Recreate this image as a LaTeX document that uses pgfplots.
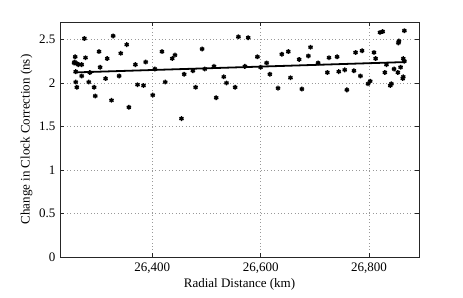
\documentclass[border=0pt]{standalone}
\usepackage{pgfplots}
\pgfplotsset{compat=1.18}
\usepackage{fontspec}
\setmainfont{Liberation Serif}
\begin{document}
\fontsize{13bp}{15bp}\selectfont
\begin{tikzpicture}
\path[use as bounding box] (0,0) rectangle (463bp,298bp);
\begin{axis}[
  at={(60bp,41bp)}, anchor=south west,
  scale only axis, width=359bp, height=235bp,
  xmin=26230, xmax=26892, ymin=0, ymax=2.7,
  xtick={26400,26600,26800}, ytick={0,0.5,1,1.5,2,2.5},
  scaled x ticks=false,
  xticklabel style={/pgf/number format/1000 sep={,}},
  /pgf/number format/assume math mode=true,
  tick label style={font=\fontsize{13bp}{15bp}\selectfont},
  label style={font=\fontsize{13bp}{15bp}\selectfont},
  xlabel={Radial Distance (km)}, ylabel={Change in Clock Correction (ns)},
  grid=major, major grid style={dash pattern=on 0.8bp off 2.6bp, gray!80, line width=0.6pt},
  tick align=inside, tick pos=both, major tick length=4bp,
  axis line style={black!85, line width=0.8pt},
  every tick/.style={black!85, line width=0.6pt},
  xticklabel style={yshift=-1bp},
  xlabel style={yshift=4bp},
  ylabel style={yshift=-2bp},
]
\addplot[only marks, mark=asterisk, mark size=2.4bp, line width=1.4pt, black] table {
x y
26275 2.51
26328 2.54
26353 2.44
26258 2.30
26277 2.29
26302 2.36
26317 2.28
26342 2.34
26256 2.23
26264 2.21
26270 2.21
26304 2.18
26369 2.21
26388 2.24
26259 2.13
26270 2.08
26285 2.12
26314 2.05
26339 2.08
26259 2.01
26261 1.95
26283 2.01
26293 1.95
26373 1.98
26384 1.97
26295 1.85
26325 1.80
26357 1.72
26257 2.24
26262 2.22
26418 2.36
26437 2.28
26442 2.32
26492 2.39
26405 2.16
26514 2.19
26497 2.16
26475 2.14
26459 2.10
26424 2.01
26532 2.07
26537 2.00
26553 1.95
26401 1.86
26480 1.95
26518 1.83
26454 1.59
26559 2.53
26577 2.52
26594 2.30
26611 2.23
26639 2.33
26651 2.36
26671 2.27
26688 2.31
26692 2.41
26706 2.23
26571 2.19
26600 2.18
26617 2.10
26655 2.06
26632 1.94
26676 1.93
26820 2.58
26825 2.59
26865 2.60
26855 2.48
26854 2.46
26726 2.29
26741 2.30
26775 2.35
26787 2.37
26809 2.35
26812 2.28
26863 2.28
26865 2.25
26832 2.21
26723 2.12
26744 2.13
26755 2.15
26772 2.14
26784 2.08
26829 2.12
26846 2.16
26853 2.12
26858 2.18
26863 2.07
26862 2.05
26802 2.02
26798 1.99
26841 1.99
26839 1.97
26759 1.92
};
\addplot[black, line width=1.8pt] coordinates {(26255,2.12) (26868,2.24)};
\end{axis}
\end{tikzpicture}
\end{document}
